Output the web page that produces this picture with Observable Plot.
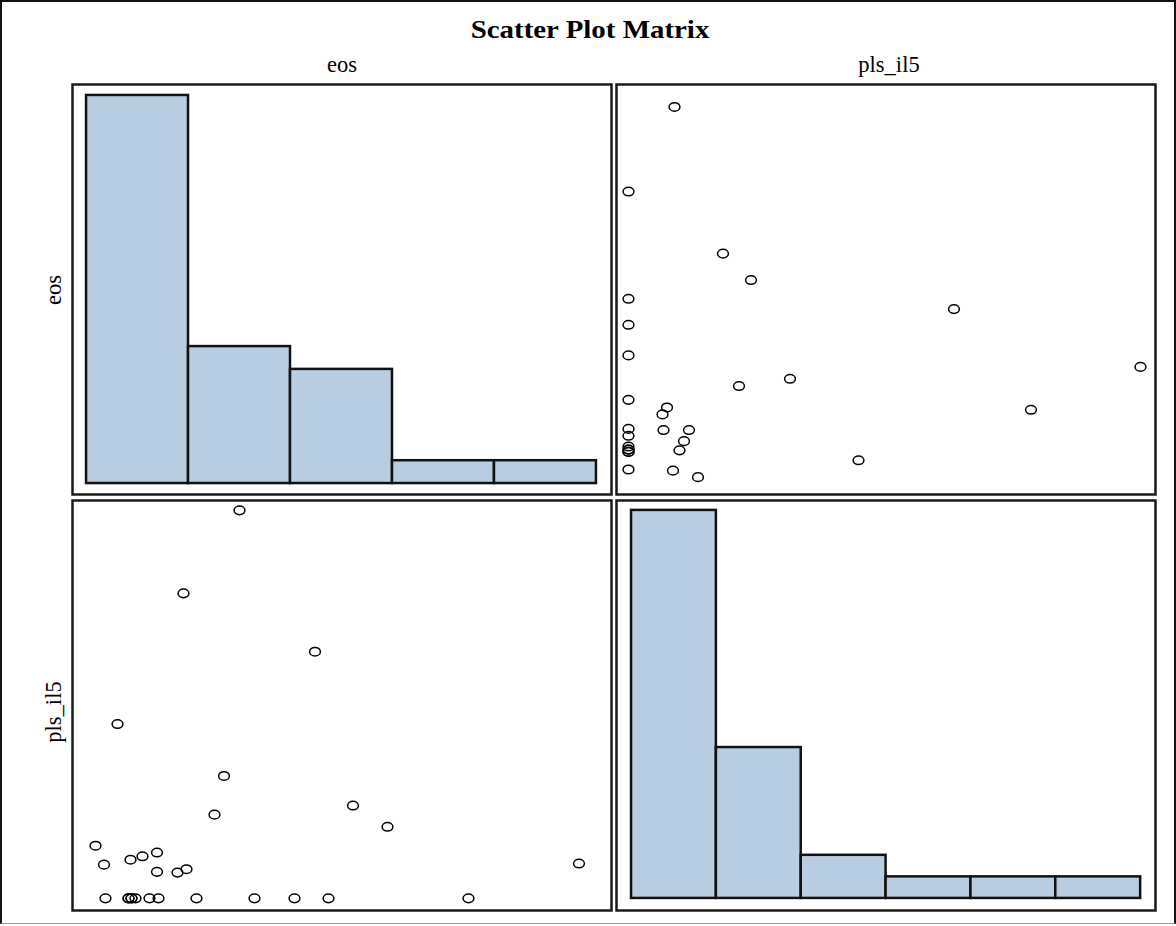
<!DOCTYPE html>
<html>
<head>
<meta charset="utf-8">
<script src="https://cdn.jsdelivr.net/npm/d3@7"></script>
<script src="https://cdn.jsdelivr.net/npm/@observablehq/plot@0.6"></script>
<style>
  html, body { margin: 0; padding: 0; background: #fff; }
  #root { position: relative; width: 1176px; height: 926px; background: #fff; overflow: hidden; }
  .lbl { position: absolute; font-family: "Liberation Serif", "Times New Roman", serif; color: #000; white-space: nowrap; }
  .panel { position: absolute; }
</style>
</head>
<body>
<div id="root"></div>
<script>
// ---- data (paired observations) ----
const variables = ["eos", "pls_il5"];
const chartTitle = "Scatter Plot Matrix";
const eosValues = [50, 96, 102, 110, 138, 156, 232, 348, 428, 496, 776, 96, 102,
                   318, 206, 469, 74, 287, 545, 268, 614, 30, 153, 124, 100, 997, 47, 212, 153, 194];
const plsValues = [10.1, 10.1, 10.1, 10.1, 10.1, 10.1, 10.1, 10.1, 10.1, 10.1, 10.1, 10.1, 10.1,
                   112.5, 90.6, 75.2, 56.1, 42.4, 34.6, 32.2, 29.0, 24.0, 22.2, 21.2, 20.3, 19.3, 19.0, 17.8, 17.1, 16.9];
const eosThresholds = [0, 210, 420, 630, 840, 1050];
const plsThresholds = [0, 20, 40, 60, 80, 100, 120];

const rows = eosValues.map((e, i) => ({eos: e, pls_il5: plsValues[i]}));

const root = document.getElementById("root");

// outer border
const border = document.createElement("div");
border.style.cssText = "position:absolute;left:0;top:0;width:1176px;height:924px;box-sizing:border-box;border:2px solid #111;border-bottom:1px solid #999;";
root.appendChild(border);

function addLabel(text, css) {
  const d = document.createElement("div");
  d.className = "lbl";
  d.textContent = text;
  d.style.cssText += css;
  root.appendChild(d);
  return d;
}

addLabel(chartTitle, "left:590px;top:30px;transform:translate(-50%,-50%) scaleX(1.18);font-size:24.5px;font-weight:bold;");
addLabel(variables[0], "left:342px;top:65px;transform:translate(-50%,-50%);font-size:22.5px;");
addLabel(variables[1], "left:889px;top:65px;transform:translate(-50%,-50%);font-size:22.5px;");
addLabel(variables[0], "left:54px;top:290px;transform:translate(-50%,-50%) rotate(-90deg);font-size:22.5px;");
addLabel(variables[1], "left:54px;top:712px;transform:translate(-50%,-50%) rotate(-90deg);font-size:22.5px;");

const ellipse = {
  draw(ctx) {
    const rx = 5.4, ry = 4.3, k = 0.5523;
    ctx.moveTo(rx, 0);
    ctx.bezierCurveTo(rx, ry * k, rx * k, ry, 0, ry);
    ctx.bezierCurveTo(-rx * k, ry, -rx, ry * k, -rx, 0);
    ctx.bezierCurveTo(-rx, -ry * k, -rx * k, -ry, 0, -ry);
    ctx.bezierCurveTo(rx * k, -ry, rx, -ry * k, rx, 0);
    ctx.closePath();
  }
};

const W = 541, H = 412;
function panel(left, top, xDomain, yDomain, marks) {
  const p = Plot.plot({
    width: W, height: H, margin: 1,
    x: {domain: xDomain, axis: null},
    y: {domain: yDomain, axis: null},
    style: {background: "transparent", overflow: "visible"},
    marks: [...marks, Plot.frame({stroke: "#1a1a1a", strokeWidth: 2.5})]
  });
  const wrap = document.createElement("div");
  wrap.className = "panel";
  wrap.style.left = left + "px";
  wrap.style.top = top + "px";
  wrap.appendChild(p);
  root.appendChild(wrap);
}

function hist(values, thresholds) {
  const b = d3.bin().domain([thresholds[0], thresholds[thresholds.length - 1]])
    .thresholds(thresholds.slice(1, -1))(values);
  return b.map(d => ({x1: d.x0, x2: d.x1, count: d.length}));
}

const barStyle = {fill: "#b8cde2", stroke: "#111", strokeWidth: 2.5, inset: 0};
const dotStyle = {symbol: ellipse, stroke: "#000", strokeWidth: 1.5, fill: "none"};

// top-left: eos histogram
panel(71, 83, [-28.9, 1081], [-0.48, 17.48], [
  Plot.rectY(hist(eosValues, eosThresholds), {x1: "x1", x2: "x2", y: "count", ...barStyle})
]);

// top-right: x = pls_il5, y = eos
panel(615, 83, [7.7, 115.5], [-15.3, 1055.7], [
  Plot.dot(rows, {x: "pls_il5", y: "eos", ...dotStyle})
]);

// bottom-left: x = eos, y = pls_il5
panel(71, 499, [-16, 1062], [6.9, 115.1], [
  Plot.dot(rows, {x: "eos", y: "pls_il5", ...dotStyle})
]);

// bottom-right: pls_il5 histogram
panel(615, 499, [-3.54, 123.5], [-0.56, 18.46], [
  Plot.rectY(hist(plsValues, plsThresholds), {x1: "x1", x2: "x2", y: "count", ...barStyle})
]);
</script>
</body>
</html>
